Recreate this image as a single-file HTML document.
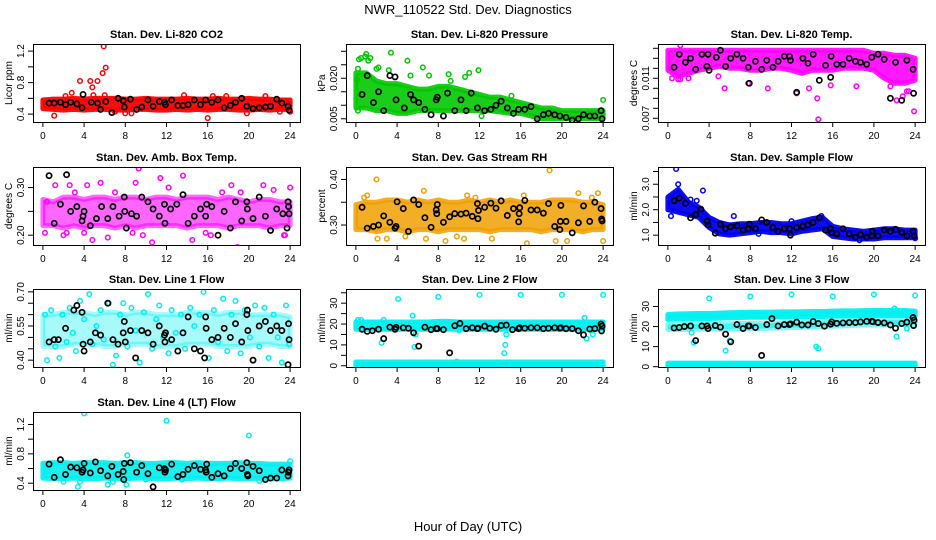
<!DOCTYPE html>
<html><head><meta charset="utf-8">
<style>
body{margin:0;background:#fff;}
svg{display:block;font-family:"Liberation Sans",sans-serif;}
</style></head>
<body>
<svg id="chart" width="936" height="540" viewBox="0 0 936 540" xmlns="http://www.w3.org/2000/svg">
<rect width="936" height="540" fill="#fff"/>
<text x="468" y="14" text-anchor="middle" font-size="13">NWR_110522  Std. Dev. Diagnostics</text>
<text x="468" y="531" text-anchor="middle" font-size="13">Hour of Day (UTC)</text>
</svg>
<script>
const xTicks=[0,4,8,12,16,20,24];
const hours=[0,1,2,3,4,5,6,7,8,9,10,11,12,13,14,15,16,17,18,19,20,21,22,23,24];

// CO2
const co2Lo=[0.47,0.46,0.45,0.46,0.45,0.46,0.46,0.45,0.45,0.46,0.46,0.45,0.45,0.46,0.45,0.46,0.45,0.46,0.46,0.45,0.45,0.46,0.45,0.46,0.46];
const co2Hi=[0.58,0.59,0.59,0.60,0.59,0.60,0.60,0.60,0.59,0.59,0.60,0.59,0.59,0.59,0.60,0.59,0.59,0.60,0.59,0.59,0.60,0.59,0.59,0.58,0.58];
const co2PtX=[1.1,2.2,2.8,3.6,4.6,4.8,4.9,5.3,5.8,5.9,6.1,6.0,7.0,8.0,8.6,13.7,16.0,16.5,19.8,21.6,23.0,24.0,17.8];
const co2PtY=[0.38,0.63,0.67,0.82,0.82,0.74,0.64,0.82,0.92,1.26,0.99,0.64,0.43,0.41,0.41,0.64,0.35,0.63,0.41,0.63,0.43,0.43,0.63];
const co2BkX=[0.6,1.1,1.7,2.2,2.7,3.3,3.8,3.9,4.7,5.3,5.6,6.1,6.7,7.3,7.8,7.9,8.5,9.1,9.6,10.2,10.7,11.3,11.8,11.9,12.5,13.1,13.6,14.1,14.7,15.3,15.8,16.4,17.0,17.6,18.2,18.7,19.3,19.8,20.4,21.0,21.6,22.1,22.7,23.2,23.8,23.9];
const co2BkY=[0.54,0.54,0.55,0.52,0.55,0.53,0.48,0.65,0.55,0.54,0.46,0.56,0.42,0.60,0.57,0.49,0.59,0.46,0.49,0.58,0.50,0.56,0.55,0.52,0.58,0.51,0.51,0.52,0.58,0.52,0.58,0.55,0.58,0.48,0.51,0.55,0.60,0.50,0.47,0.48,0.49,0.50,0.59,0.54,0.50,0.45];

// Pressure
const prLo=[0.009,0.009,0.008,0.008,0.007,0.007,0.008,0.008,0.008,0.008,0.008,0.008,0.008,0.008,0.0075,0.007,0.007,0.006,0.005,0.005,0.005,0.005,0.005,0.005,0.005];
const prHi=[0.022,0.022,0.019,0.018,0.018,0.017,0.016,0.016,0.017,0.017,0.016,0.015,0.014,0.013,0.013,0.012,0.011,0.010,0.009,0.009,0.008,0.008,0.008,0.008,0.008];
const prPtX=[0.2,0.3,0.5,0.9,1.0,1.2,1.4,2.0,2.2,3.2,3.4,5.0,5.3,6.5,7.1,9.0,9.2,10.6,11.0,11.9,12.2,0.1,0.2,15.1,24.0,19.0];
const prPtY=[0.0235,0.027,0.0275,0.028,0.029,0.0265,0.0275,0.0235,0.024,0.023,0.0295,0.0265,0.021,0.024,0.021,0.0215,0.019,0.0205,0.022,0.023,0.006,0.0195,0.008,0.0135,0.012,0.007];
const prBkX=[0.6,1.1,1.7,2.2,2.7,3.3,3.8,3.9,4.7,5.3,5.6,6.1,6.7,7.3,7.8,7.9,8.5,8.9,9.6,10.2,10.7,11.2,11.8,12.5,13.1,13.6,14.1,14.7,15.3,15.8,16.4,17.0,17.6,18.2,18.7,19.3,19.8,20.4,21.0,21.6,22.1,22.7,23.2,23.8,23.9];
const prBkY=[0.014,0.021,0.011,0.015,0.008,0.021,0.0205,0.012,0.009,0.014,0.012,0.011,0.0085,0.0065,0.012,0.013,0.006,0.0145,0.008,0.012,0.008,0.0145,0.009,0.008,0.0085,0.010,0.0115,0.009,0.007,0.0085,0.0085,0.0095,0.005,0.0065,0.007,0.0065,0.006,0.0055,0.0045,0.005,0.0065,0.006,0.006,0.008,0.005];

// Li-820 Temp
const tpLo=[0.0118,0.0112,0.0115,0.0118,0.0120,0.0122,0.0120,0.0120,0.0118,0.0118,0.0120,0.0120,0.0118,0.0115,0.0118,0.0118,0.0118,0.0120,0.0120,0.0120,0.0118,0.0110,0.0105,0.0105,0.0108];
const tpHi=[0.0138,0.0138,0.0138,0.0138,0.0138,0.0138,0.0138,0.0138,0.0138,0.0138,0.0138,0.0138,0.0138,0.0138,0.0138,0.0138,0.0138,0.0138,0.0138,0.0138,0.0135,0.0135,0.0133,0.0133,0.0130];
const tpPtX=[0.4,1.0,1.2,2.0,4.9,5.5,7.8,9.7,12.5,13.7,14.5,14.6,15.8,18.3,21.6,22.2,22.8,23.4,23.9,23.2,1.2];
const tpPtY=[0.0110,0.0109,0.0143,0.0110,0.0112,0.0100,0.0105,0.0100,0.0095,0.0100,0.0090,0.0069,0.0103,0.0102,0.0102,0.0088,0.0092,0.0097,0.0077,0.0097,0.0109];
const tpBkX=[0.6,1.1,1.7,2.2,2.7,3.3,3.8,3.9,4.0,4.7,5.1,5.6,6.1,6.7,7.3,7.8,7.9,8.5,9.1,9.6,10.2,10.7,11.3,11.8,11.9,12.5,13.1,13.6,14.1,14.7,15.3,15.8,15.85,16.4,17.0,17.6,18.2,18.7,19.3,19.8,20.4,21.0,21.6,22.1,22.7,23.2,23.8,23.85];
const tpBkY=[0.0121,0.0134,0.0126,0.0130,0.0119,0.0134,0.0122,0.0134,0.0118,0.0131,0.0138,0.0122,0.0130,0.0134,0.0130,0.0121,0.0105,0.0127,0.0119,0.0128,0.0121,0.0127,0.0132,0.0132,0.0128,0.0096,0.0130,0.0125,0.0134,0.0108,0.0123,0.0111,0.0132,0.0124,0.0124,0.0130,0.0127,0.0126,0.0124,0.0131,0.0134,0.0129,0.0090,0.0126,0.0088,0.0128,0.0119,0.0095];

// Amb box temp
const abLo=[0.22,0.22,0.215,0.22,0.215,0.22,0.22,0.215,0.22,0.215,0.22,0.22,0.22,0.22,0.215,0.22,0.22,0.22,0.215,0.22,0.22,0.22,0.215,0.22,0.22];
const abHi=[0.275,0.27,0.28,0.28,0.275,0.28,0.28,0.275,0.28,0.28,0.275,0.28,0.28,0.275,0.28,0.28,0.28,0.275,0.28,0.275,0.27,0.275,0.275,0.27,0.27];
const abPtX=[0.2,1.2,2.3,2.6,3.1,4.0,4.3,4.8,5.6,6.3,7.0,8.7,9.3,9.7,10.6,11.4,12.2,13.6,14.5,15.8,16.3,17.4,18.3,18.9,19.2,21.4,22.4,23.4,24.0,23.5,9.0,2.0,0.4];
const abPtY=[0.205,0.305,0.205,0.305,0.29,0.205,0.305,0.19,0.31,0.195,0.29,0.205,0.34,0.20,0.185,0.32,0.30,0.325,0.19,0.205,0.20,0.29,0.305,0.175,0.29,0.305,0.295,0.20,0.30,0.20,0.31,0.20,0.27];
const abBkX=[0.6,1.1,1.7,2.3,2.7,3.3,3.8,3.9,4.0,4.6,5.2,5.7,6.3,6.8,7.4,7.9,7.95,8.1,8.6,9.1,9.6,10.2,10.7,11.3,11.8,11.85,12.4,13.0,13.6,14.1,14.7,15.3,15.8,15.9,16.4,17.0,17.6,18.2,18.7,19.3,19.8,19.85,20.4,21.0,21.6,22.1,22.7,23.3,23.8,23.85,23.9,23.7];
const abBkY=[0.325,0.225,0.265,0.327,0.25,0.26,0.23,0.24,0.25,0.22,0.235,0.26,0.235,0.26,0.24,0.28,0.25,0.215,0.245,0.24,0.28,0.27,0.255,0.24,0.265,0.225,0.255,0.265,0.285,0.225,0.24,0.255,0.24,0.265,0.26,0.20,0.25,0.215,0.27,0.23,0.27,0.255,0.235,0.28,0.24,0.21,0.255,0.245,0.27,0.26,0.245,0.215];

// Gas stream RH
const rhLo=[0.29,0.29,0.285,0.29,0.29,0.285,0.29,0.29,0.285,0.29,0.29,0.29,0.29,0.285,0.29,0.29,0.29,0.29,0.285,0.29,0.29,0.29,0.285,0.29,0.29];
const rhHi=[0.345,0.35,0.35,0.355,0.355,0.35,0.355,0.35,0.355,0.35,0.35,0.355,0.35,0.355,0.35,0.355,0.35,0.35,0.35,0.355,0.355,0.355,0.35,0.35,0.345];
const rhPtX=[0.8,1.1,2.0,2.1,6.6,6.8,8.7,9.8,10.5,10.8,11.6,13.2,16.3,16.6,18.8,19.4,20.5,21.6,22.9,23.5,24.0,3.0,4.8];
const rhPtY=[0.36,0.365,0.40,0.27,0.375,0.27,0.265,0.275,0.27,0.365,0.36,0.27,0.365,0.26,0.42,0.265,0.265,0.37,0.36,0.37,0.265,0.27,0.275];
const rhBkX=[0.6,1.1,1.7,2.2,2.7,3.3,3.8,3.9,4.0,4.6,5.1,5.6,6.1,6.7,7.3,7.8,7.85,7.9,8.5,9.1,9.6,10.2,10.7,11.3,11.8,11.85,11.9,12.5,13.1,13.6,14.1,14.7,15.3,15.8,15.85,15.9,16.4,17.0,17.6,18.2,18.7,19.3,19.8,19.85,19.9,20.4,21.0,21.6,22.1,22.7,23.2,23.8,23.85,23.9];
const rhBkY=[0.339,0.293,0.297,0.300,0.320,0.306,0.293,0.297,0.351,0.336,0.286,0.355,0.345,0.316,0.295,0.333,0.325,0.345,0.306,0.318,0.325,0.324,0.326,0.319,0.347,0.314,0.332,0.339,0.348,0.337,0.353,0.321,0.336,0.307,0.325,0.338,0.354,0.333,0.333,0.326,0.347,0.297,0.290,0.308,0.343,0.308,0.283,0.305,0.342,0.308,0.350,0.336,0.313,0.309];

// Sample flow
const sfLo=[2.0,1.9,1.8,1.7,1.3,1.05,1.0,1.05,1.1,1.15,1.1,1.1,1.05,1.15,1.2,1.25,0.95,0.9,0.85,0.85,0.85,0.9,0.9,0.9,0.9];
const sfHi=[2.5,2.8,2.3,2.1,1.7,1.5,1.4,1.45,1.45,1.5,1.5,1.45,1.45,1.55,1.65,1.7,1.35,1.25,1.2,1.15,1.2,1.25,1.25,1.2,1.2];
const sfPtX=[0.3,0.8,1.0,3.4,6.4,2.2,2.8,8.8,12.0,14.9,18.6,24.0];
const sfPtY=[1.75,3.6,3.0,2.75,1.75,2.4,2.35,1.05,1.55,1.75,0.8,0.88];
const sfBkX=[0.6,1.1,1.7,2.2,2.7,3.2,3.8,3.9,4.6,5.1,5.6,6.1,6.7,7.3,7.8,7.9,8.5,9.1,9.6,10.2,10.7,11.3,11.8,11.9,12.5,13.1,13.6,14.1,14.7,15.3,15.8,15.9,16.4,17.0,17.6,18.2,18.7,19.3,19.8,19.85,20.4,21.0,21.6,22.1,22.7,23.2,23.8,23.9];
const sfBkY=[2.35,2.45,2.25,1.68,1.8,2.02,1.55,1.4,1.08,1.43,1.25,1.33,1.37,1.2,1.25,1.43,1.25,1.6,1.5,1.3,1.15,1.25,1.25,1.0,1.3,1.35,1.4,1.5,1.68,1.2,1.25,1.1,1.05,1.25,1.05,0.92,1.02,0.92,0.97,1.15,0.97,1.2,1.15,1.23,1.12,0.97,1.15,0.97];

// Line 1 flow
const l1Lo=[0.46,0.46,0.46,0.47,0.47,0.47,0.46,0.46,0.47,0.47,0.47,0.46,0.46,0.46,0.47,0.47,0.47,0.46,0.46,0.46,0.46,0.47,0.47,0.46,0.46];
const l1Hi=[0.60,0.60,0.61,0.61,0.61,0.60,0.61,0.61,0.60,0.61,0.61,0.60,0.60,0.60,0.61,0.61,0.61,0.60,0.61,0.61,0.60,0.60,0.60,0.60,0.59];
const l1PtX=[0.2,0.4,0.8,1.2,1.6,1.9,2.3,2.6,2.9,3.2,3.6,4.0,4.5,4.8,5.2,5.6,5.9,6.4,6.8,7.1,7.5,7.8,8.2,8.6,9.0,9.4,9.8,10.2,10.6,11.0,11.3,11.7,12.2,12.5,12.9,13.4,13.8,14.3,14.7,15.2,15.6,16.1,16.6,17.0,17.5,17.9,18.3,18.7,19.2,19.6,20.1,20.6,21.0,21.5,21.9,22.4,22.8,23.2,23.6,23.9];
const l1PtY=[0.60,0.40,0.62,0.46,0.41,0.60,0.48,0.63,0.52,0.44,0.66,0.58,0.69,0.47,0.55,0.62,0.49,0.65,0.38,0.42,0.60,0.65,0.46,0.63,0.53,0.39,0.61,0.69,0.45,0.58,0.64,0.50,0.43,0.62,0.52,0.60,0.45,0.63,0.55,0.60,0.70,0.41,0.62,0.48,0.67,0.44,0.60,0.66,0.43,0.62,0.50,0.64,0.46,0.63,0.41,0.60,0.50,0.39,0.64,0.47];
const l1BkX=[0.6,1.1,1.5,2.2,3.0,3.3,3.8,3.9,4.0,4.6,5.1,5.6,6.3,6.8,7.3,7.8,7.9,8.0,8.5,9.0,9.6,10.2,10.7,11.3,11.8,11.85,11.9,12.5,13.1,13.6,14.1,14.7,15.3,15.8,15.85,15.7,16.4,17.0,17.6,18.2,18.7,19.3,19.8,19.85,19.9,20.4,21.0,21.6,22.1,22.7,23.2,23.8,23.85,23.9];
const l1BkY=[0.48,0.49,0.49,0.54,0.62,0.64,0.61,0.47,0.44,0.48,0.52,0.51,0.65,0.49,0.47,0.52,0.57,0.48,0.53,0.41,0.53,0.52,0.47,0.55,0.51,0.48,0.52,0.49,0.44,0.52,0.59,0.45,0.44,0.59,0.54,0.41,0.49,0.50,0.54,0.50,0.56,0.48,0.60,0.62,0.53,0.40,0.55,0.57,0.53,0.55,0.53,0.38,0.56,0.49];

// Line 2 flow
const l2UpLo=[17.5,17.5,17.5,17.5,17.5,17.5,17.5,17.5,17.5,17.5,17.5,17.5,17.5,17.5,17.5,17.5,17.5,17.5,17.5,17.5,17.5,17.5,17.5,17.5,17.5];
const l2UpHi=[21,21,21,21,21,21,21,21,21.3,21.3,21,21,21,21,21,21,21,21,21,21,21,21,21,21,21];
const l2LowLo=[-0.2,-0.2,-0.2,-0.2,-0.2,-0.2,-0.2,-0.2,-0.2,-0.2,-0.2,-0.2,-0.2,-0.2,-0.2,-0.2,-0.2,-0.2,-0.2,-0.2,-0.2,-0.2,-0.2,-0.2,-0.2];
const l2LowHi=[1.8,1.8,1.8,1.8,1.8,1.8,1.8,1.8,1.8,1.8,1.8,1.8,1.8,1.8,1.8,1.8,1.8,1.8,1.8,1.8,1.8,1.8,1.8,1.8,1.8];
const l2PtX=[0.2,0.5,2.5,2.7,4.1,5.5,5.7,5.8,8.0,12.0,14.4,14.5,14.6,16.0,20.0,22.2,22.4,23.0,24.0,10.0,9.8];
const l2PtY=[22,22,11,22,32,24,9,15,33,34,6,10,15,34,34,23,13,15,34,17,2];
const l2BkX=[0.6,1.1,1.6,2.2,2.7,3.3,3.8,3.9,4.6,5.1,5.6,6.1,6.7,7.3,7.8,7.9,8.5,9.1,9.6,10.1,10.7,11.3,11.8,11.85,12.5,13.0,13.6,14.1,14.6,15.2,15.8,15.9,16.4,17.0,17.6,18.2,18.7,19.3,19.8,19.9,20.4,21.0,21.6,22.1,22.7,23.2,23.8,23.85,23.9];
const l2BkY=[17.5,16.5,16.8,17.5,13,18.5,17.5,18.4,18.2,18,15.8,9.4,18.5,17.3,17.8,17.8,17.3,6.2,19.2,20.3,17.8,18.2,17.8,18,19,18,17.5,19.3,19.5,17.3,17.8,18.2,18,18.2,18.2,17.8,18,18.2,18,18.2,17.8,17.8,16.8,14.8,17.6,17.8,20,16.7,19];

// Line 3 flow
const l3UpLo=[23.5,24,24,24,24,24.2,24.4,24.5,24.6,24.6,24.7,24.8,24.8,24.9,25,25,25.2,25.3,25.3,25.4,25.5,25.5,25.5,25.5,25.2];
const l3UpHi=[26,26.3,26.4,26.5,26.5,26.7,26.9,27,27.1,27.1,27.2,27.3,27.3,27.4,27.5,27.5,27.7,27.8,27.8,27.9,28,28,28,28,27.7];
const l3MidLo=[18.5,18.5,18.5,18.7,18.7,18.8,18.8,19,19,19,19.2,19.3,19.5,19.6,19.8,20,20.2,20.4,20.6,20.8,21,21,21,21,21];
const l3MidHi=[21,21,21.2,21.2,21.3,21.3,21.4,21.5,21.5,21.6,21.7,21.8,22,22.1,22.3,22.5,22.6,22.8,23,23.2,23.3,23.3,23.3,23.3,23.3];
const l3LowLo=[-0.1,-0.1,-0.1,-0.1,-0.1,-0.1,-0.1,-0.1,-0.1,-0.1,-0.1,-0.1,-0.1,-0.1,-0.1,-0.1,-0.1,-0.1,-0.1,-0.1,-0.1,-0.1,-0.1,-0.1,-0.1];
const l3LowHi=[1.8,1.8,1.8,1.8,1.8,1.8,1.8,1.8,1.8,1.8,1.8,1.8,1.8,1.8,1.8,1.8,1.8,1.8,1.8,1.8,1.8,1.8,1.8,1.8,1.8];
const l3PtX=[4.0,8.0,12.0,16.0,20.0,24.0,5.6,6.0,14.4,14.6,2.3,2.5,22.2,22.0,23.2];
const l3PtY=[34,35,36,35,36,35.5,8,13,10,9,17,12,15,29,19];
const l3BkX=[0.6,1.1,1.6,2.2,2.7,3.3,3.8,3.9,4.6,5.1,5.6,6.1,6.7,7.3,7.8,7.9,8.5,9.1,9.6,10.1,10.7,11.3,11.8,11.9,12.5,13.0,13.6,14.1,14.6,15.2,15.8,15.9,16.4,17.0,17.6,18.2,18.7,19.3,19.8,19.9,20.4,21.0,21.6,22.1,22.7,23.2,23.8,23.85,23.9];
const l3BkY=[19.3,19.5,20,20.3,13,20.3,20.3,19,20.5,19.7,16.2,12.4,21,19,20.3,20.3,19.5,5.6,21,24,20.3,21,21,21.3,22.2,20.8,20.8,22.5,21.5,20.2,21.2,22.3,21.6,21.8,22,22,22.3,22.6,22.6,22.4,22,21.8,20.8,19.2,21.5,22.2,24.5,20.5,23.2];

// Line 4 flow
const l4Lo=[0.47,0.46,0.46,0.47,0.46,0.46,0.47,0.46,0.46,0.47,0.47,0.46,0.46,0.47,0.46,0.47,0.46,0.46,0.47,0.46,0.46,0.47,0.46,0.46,0.47];
const l4Hi=[0.67,0.68,0.68,0.67,0.68,0.68,0.68,0.67,0.68,0.68,0.67,0.67,0.68,0.68,0.67,0.68,0.67,0.67,0.67,0.68,0.67,0.67,0.66,0.66,0.66];
const l4PtX=[4.0,12.0,20.0,3.4,3.6,6.3,6.8,8.1,8.2,10.0,0.5,2.0,21.0,13.5,17.0,24.0];
const l4PtY=[1.35,1.25,1.05,0.35,0.42,0.38,0.42,0.38,0.78,0.45,0.56,0.42,0.43,0.45,0.47,0.70];
const l4BkX=[0.6,1.1,1.7,2.2,2.7,3.3,3.8,3.9,4.0,4.6,5.1,5.6,6.3,6.7,7.3,7.8,7.85,7.9,8.5,9.1,9.6,10.2,10.7,11.3,11.8,11.85,11.9,12.5,13.1,13.6,14.1,14.7,15.3,15.8,15.85,15.9,16.4,17.0,17.6,18.2,18.7,19.3,19.8,19.85,19.9,20.4,21.0,21.6,22.1,22.7,23.2,23.8,23.85,23.9];
const l4BkY=[0.66,0.48,0.72,0.52,0.62,0.61,0.55,0.58,0.67,0.54,0.69,0.57,0.50,0.63,0.52,0.56,0.45,0.67,0.68,0.55,0.64,0.53,0.35,0.61,0.60,0.55,0.58,0.66,0.49,0.52,0.59,0.64,0.59,0.58,0.55,0.66,0.48,0.53,0.50,0.60,0.67,0.60,0.68,0.52,0.50,0.63,0.57,0.45,0.47,0.47,0.58,0.50,0.55,0.58];

const panels=[
 {key:'co2',title:'Stan. Dev. Li-820 CO2',ylab:'Licor ppm',col:0,row:0,dom:[0.30,1.29],ticks:[0.4,0.6,0.8,1.0,1.2],labels:{0.4:'0.4',0.8:'0.8',1.2:'1.2'},color:'#ff0000',bands:[[co2Lo,co2Hi,0.95]],pt:[co2PtX,co2PtY],bk:[co2BkX,co2BkY]},
 {key:'pressure',title:'Stan. Dev. Li-820 Pressure',ylab:'kPa',col:1,row:0,dom:[0.0038,0.0327],ticks:[0.005,0.010,0.015,0.020,0.025,0.030],labels:{0.005:'0.005',0.02:'0.020'},color:'#00c800',bands:[[prLo,prHi,0.9]],pt:[prPtX,prPtY],bk:[prBkX,prBkY]},
 {key:'temp',title:'Stan. Dev. Li-820 Temp.',ylab:'degrees C',col:2,row:0,dom:[0.00663,0.01443],ticks:[0.007,0.008,0.009,0.010,0.011,0.012,0.013,0.014],labels:{0.007:'0.007',0.011:'0.011'},color:'#ff00ff',bands:[[tpLo,tpHi,0.9]],pt:[tpPtX,tpPtY],bk:[tpBkX,tpBkY]},
 {key:'ambbox',title:'Stan. Dev. Amb. Box Temp.',ylab:'degrees C',col:0,row:1,dom:[0.1794,0.3432],ticks:[0.20,0.25,0.30],labels:{0.2:'0.20',0.3:'0.30'},color:'#ff00ff',bands:[[abLo,abHi,0.6]],pt:[abPtX,abPtY],bk:[abBkX,abBkY]},
 {key:'rh',title:'Stan. Dev. Gas Stream RH',ylab:'percent',col:1,row:1,dom:[0.2562,0.4273],ticks:[0.30,0.35,0.40],labels:{0.3:'0.30',0.4:'0.40'},color:'#f0a000',bands:[[rhLo,rhHi,0.85]],pt:[rhPtX,rhPtY],bk:[rhBkX,rhBkY]},
 {key:'sampleflow',title:'Stan. Dev. Sample Flow',ylab:'ml/min',col:2,row:1,dom:[0.614,3.677],ticks:[1.0,1.5,2.0,2.5,3.0,3.5],labels:{1:'1.0',2:'2.0',3:'3.0'},color:'#0000f0',bands:[[sfLo,sfHi,0.95]],pt:[sfPtX,sfPtY],bk:[sfBkX,sfBkY]},
 {key:'line1',title:'Stan. Dev. Line 1 Flow',ylab:'ml/min',col:0,row:2,dom:[0.370,0.7125],ticks:[0.40,0.45,0.50,0.55,0.60,0.65,0.70],labels:{0.4:'0.40',0.55:'0.55',0.7:'0.70'},color:'#00f0f0',bands:[[l1Lo,l1Hi,0.35]],pt:[l1PtX,l1PtY],bk:[l1BkX,l1BkY]},
 {key:'line2',title:'Stan. Dev. Line 2 Flow',ylab:'ml/min',col:1,row:2,dom:[-0.6,36.8],ticks:[0,5,10,15,20,25,30,35],labels:{0:'0',10:'10',20:'20',30:'30'},color:'#00f0f0',bands:[[l2UpLo,l2UpHi,0.95],[l2LowLo,l2LowHi,0.95]],pt:[l2PtX,l2PtY],bk:[l2BkX,l2BkY]},
 {key:'line3',title:'Stan. Dev. Line 3 Flow',ylab:'ml/min',col:2,row:2,dom:[-0.15,38.7],ticks:[0,10,20,30],labels:{0:'0',10:'10',20:'20',30:'30'},color:'#00f0f0',bands:[[l3UpLo,l3UpHi,0.95],[l3MidLo,l3MidHi,0.5],[l3LowLo,l3LowHi,0.95]],pt:[l3PtX,l3PtY],bk:[l3BkX,l3BkY]},
 {key:'line4',title:'Stan. Dev. Line 4 (LT) Flow',ylab:'ml/min',col:0,row:3,dom:[0.3076,1.37],ticks:[0.4,0.6,0.8,1.0,1.2],labels:{0.4:'0.4',0.8:'0.8',1.2:'1.2'},color:'#00f0f0',bands:[[l4Lo,l4Hi,0.9]],pt:[l4PtX,l4PtY],bk:[l4BkX,l4BkY]}
];

const colLeft=[33,346,658], boxW=267;
const rowTop=[44,167,289,412], boxH=78;
const NS='http://www.w3.org/2000/svg';
const svg=document.getElementById('chart');
function mk(tag,attrs,parent){const e=document.createElementNS(NS,tag);for(const k in attrs)e.setAttribute(k,attrs[k]);(parent||svg).appendChild(e);return e;}

panels.forEach(p=>{
  const L=colLeft[p.col], T=rowTop[p.row], B=T+boxH, R=L+boxW;
  const xs=v=>L+(v+0.96)/25.92*boxW;
  const ys=v=>B-(v-p.dom[0])/(p.dom[1]-p.dom[0])*boxH;
  const g=mk('g',{});
  
  
  const clipId='clip-'+p.key;
  const cp=mk('clipPath',{id:clipId},g); mk('rect',{x:L,y:T,width:boxW,height:boxH},cp);
  const plot=mk('g',{'clip-path':'url(#'+clipId+')'},g);
  p.bands.forEach((b,bi)=>{
    let pts=hours.map((h,i)=>xs(h)+','+ys(b[1][i]));
    pts=pts.concat(hours.slice().reverse().map((h,j)=>{const i=hours.length-1-j;return xs(h)+','+ys(b[0][i]);}));
    const poly=mk('polygon',{points:pts.join(' '),fill:p.color,'fill-opacity':b[2],stroke:p.color,'stroke-width':5,'stroke-opacity':b[2],'stroke-linejoin':'round'},plot);
    
    
  });
  p.pt[0].forEach((x,i)=>{
    const c=mk('circle',{cx:xs(x),cy:ys(p.pt[1][i]),r:2.3,fill:'none',stroke:p.color,'stroke-width':1.5},plot);
    
    
  });
  p.bk[0].forEach((x,i)=>{
    const c=mk('circle',{cx:xs(x),cy:ys(p.bk[1][i]),r:2.6,fill:'none',stroke:'#000','stroke-width':1.7},plot);
    
    
  });
  const box=mk('rect',{x:L+0.5,y:T+0.5,width:boxW,height:boxH,fill:'none',stroke:'#000','stroke-width':1},g);
  
  
  xTicks.forEach(t=>{
    const x=xs(t);
    mk('line',{x1:x,x2:x,y1:B,y2:B+5,stroke:'#000'},g);
    const tx=mk('text',{x:x,y:B+17,'text-anchor':'middle','font-size':10},g);
    tx.textContent=t;
    
    
  });
  mk('line',{x1:xs(0),x2:xs(24),y1:B+0.5,y2:B+0.5,stroke:'#000'},g);
  p.ticks.forEach(t=>{
    const y=ys(t);
    mk('line',{x1:L-5,x2:L,y1:y,y2:y,stroke:'#000'},g);
    const lab=p.labels[t];
    if(lab!==undefined){
      const tx=mk('text',{x:0,y:0,'text-anchor':'middle','font-size':10,transform:'translate('+(L-9)+','+y+') rotate(-90)'},g);
      tx.textContent=lab;
      
      
    }
  });
  const yl=mk('text',{x:0,y:0,'text-anchor':'middle','font-size':10,transform:'translate('+(L-21)+','+((T+B)/2)+') rotate(-90)'},g);
  yl.textContent=p.ylab;
  
  
  const ti=mk('text',{x:(L+R)/2,y:T-6,'text-anchor':'middle','font-size':11,'font-weight':'bold'},g);
  ti.textContent=p.title;
  
  
});
</script>
</body></html>
